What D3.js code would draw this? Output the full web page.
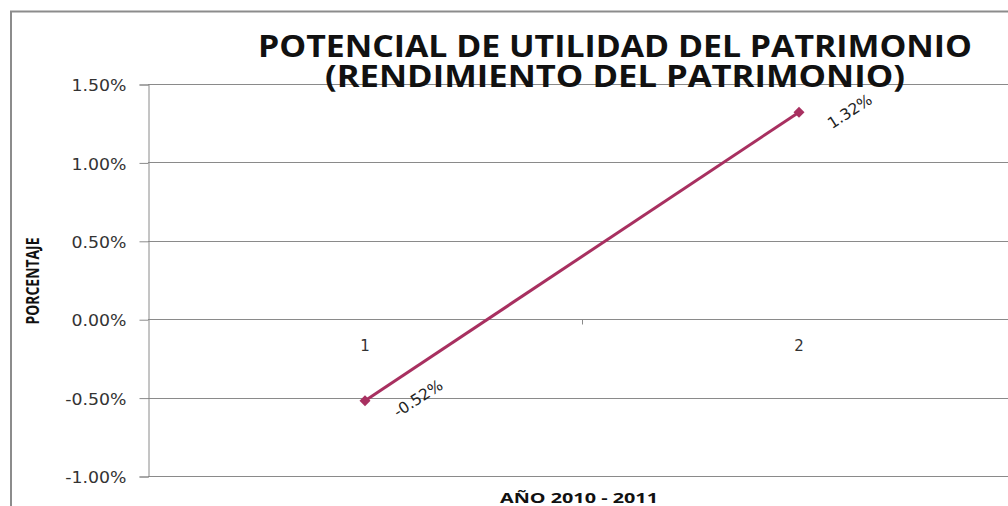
<!DOCTYPE html>
<html>
<head>
<meta charset="utf-8">
<script src="https://cdn.jsdelivr.net/npm/d3@7"></script>
<style>
  html, body { margin: 0; padding: 0; background: #fff; }
  svg { display: block; }
</style>
</head>
<body>
<svg id="chart" width="1008" height="506"></svg>
<script>
// Return on equity, years 2010 - 2011
const categories = ["1", "2"];
const values = [-0.0052, 0.0132];
const valueLabels = ["-0.52%", "1.32%"];
const yTicks = [-0.01, -0.005, 0, 0.005, 0.01, 0.015];
const titleLines = ["POTENCIAL DE UTILIDAD DEL PATRIMONIO", "(RENDIMIENTO DEL PATRIMONIO)"];
const yTitle = "PORCENTAJE";
const xTitle = "AÑO 2010 - 2011";

const svg = d3.select("#chart");
const W = 1008, H = 506;
const plot = { left: 148, right: 1016, top: 84, bottom: 476 };

const x = d3.scaleBand().domain(categories).range([plot.left, plot.right]);
const y = d3.scaleLinear().domain([-0.01, 0.015]).range([plot.bottom, plot.top]);

// percent format with a plain hyphen for negatives
const pct = d3.formatLocale({
  decimal: ".", thousands: ",", grouping: [3], currency: ["$", ""], minus: "-"
}).format(".2%");

svg.append("rect").attr("width", W).attr("height", H).attr("fill", "#fff");

// outer chart frame (left and top edges visible)
svg.append("path").attr("d", `M11,${H} V11.5 H${W}`)
  .attr("fill", "none").attr("stroke", "#8c8c8c").attr("stroke-width", 2);

// horizontal gridlines
svg.append("g").selectAll("line").data(yTicks).join("line")
  .attr("x1", plot.left).attr("x2", W)
  .attr("y1", d => Math.round(y(d)) + 0.5).attr("y2", d => Math.round(y(d)) + 0.5)
  .attr("stroke", "#8a8a8a").attr("stroke-width", 1);

// y axis
const yAxis = d3.axisLeft(y).tickValues(yTicks).tickSize(9).tickPadding(12)
  .tickFormat(pct);
const gy = svg.append("g").attr("transform", `translate(${plot.left + 0.5},0.5)`).call(yAxis);
gy.select(".domain").attr("stroke", "#8a8a8a");
gy.selectAll(".tick line").attr("stroke", "#8a8a8a");
gy.selectAll(".tick text")
  .attr("font-family", "'DejaVu Sans', sans-serif")
  .attr("font-size", 16.5).attr("fill", "#333").attr("dy", "0.38em")
  .attr("transform", "scale(1.05,1)");

// category axis on the zero line
const xAxis = d3.axisBottom(x).tickSize(0).tickPadding(21);
const gx = svg.append("g").attr("transform", `translate(0,${Math.round(y(0)) + 0.5})`).call(xAxis);
gx.select(".domain").remove();
gx.selectAll(".tick text")
  .attr("font-family", "'DejaVu Sans', sans-serif")
  .attr("font-size", 15).attr("fill", "#333");
// boundary tick between categories
gx.append("line")
  .attr("x1", Math.round(x("2")) + 0.5).attr("x2", Math.round(x("2")) + 0.5)
  .attr("y1", 0).attr("y2", 5).attr("stroke", "#8a8a8a");

// series line
const cx = d => x(d) + x.bandwidth() / 2;
const pts = categories.map((c, i) => [cx(c), y(values[i])]);
const color = "#a83060";
svg.append("path").datum(pts)
  .attr("d", d3.line())
  .attr("fill", "none").attr("stroke", color).attr("stroke-width", 3);

// diamond markers
svg.append("g").selectAll("path").data(pts).join("path")
  .attr("transform", d => `translate(${d[0]},${d[1]}) rotate(45)`)
  .attr("d", d3.symbol(d3.symbolSquare, 60)())
  .attr("fill", color);

// rotated data labels
svg.append("g").selectAll("text").data(pts).join("text")
  .attr("transform", d => `translate(${d[0] + 33},${d[1] + 17}) rotate(-33)`)
  .attr("font-family", "'DejaVu Sans', sans-serif")
  .attr("font-size", 15.5).attr("fill", "#222")
  .text((d, i) => valueLabels[i]);

// title
const titleWidths = [714, 580];
svg.append("g").selectAll("text").data(titleLines).join("text")
  .attr("x", 615).attr("y", (d, i) => 57 + i * 30)
  .attr("text-anchor", "middle")
  .attr("font-family", "'Open Sans', sans-serif").attr("font-weight", 700)
  .attr("font-size", 31).attr("fill", "#111")
  .attr("textLength", (d, i) => titleWidths[i]).attr("lengthAdjust", "spacingAndGlyphs")
  .text(d => d);

// axis titles
svg.append("text")
  .attr("transform", "translate(39,281) rotate(-90)")
  .attr("text-anchor", "middle")
  .attr("font-family", "'Liberation Sans Narrow', 'Open Sans', sans-serif").attr("font-weight", 700)
  .attr("font-size", 17).attr("fill", "#111")
  .attr("textLength", 87).attr("lengthAdjust", "spacingAndGlyphs")
  .text(yTitle);

svg.append("text")
  .attr("x", 579).attr("y", 503)
  .attr("text-anchor", "middle")
  .attr("font-family", "'Open Sans', sans-serif").attr("font-weight", 700)
  .attr("font-size", 14.5).attr("fill", "#111")
  .attr("textLength", 158).attr("lengthAdjust", "spacingAndGlyphs")
  .text(xTitle);
</script>
</body>
</html>
